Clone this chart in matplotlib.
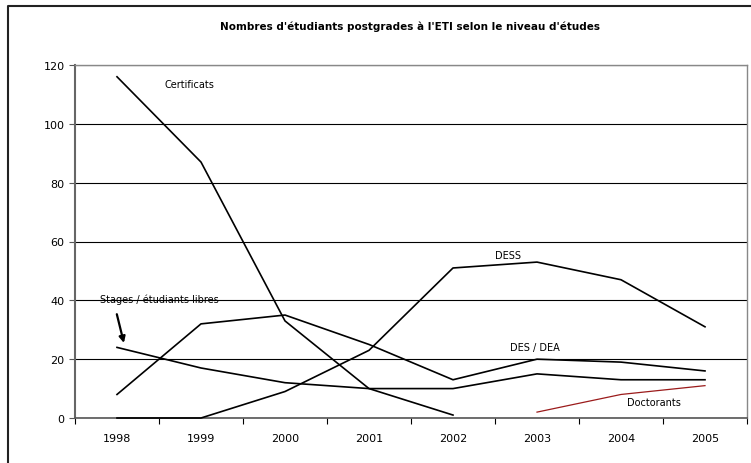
import matplotlib.pyplot as plt
import numpy as np

years = ['1998', '1999', '2000', '2001', '2002', '2003', '2004', '2005']
certificats = [116, 87, 33, 10, 1, None, None, None]
dess = [0, 0, 9, 23, 51, 53, 47, 31]
des_dea = [8, 32, 35, 25, 13, 20, 19, 16]
stages = [24, 17, 12, 10, 10, 15, 13, 13]
doctorants = [None, None, None, None, None, 2, 8, 11]

title = "Nombres d'étudiants postgrades à l'ETI selon le niveau d'études"

plt.rcParams['font.family'] = ['DejaVu Sans']


def arr(values):
    return np.array([np.nan if v is None else v for v in values], dtype=float)


fig = plt.figure(figsize=(7.51, 4.64), dpi=100)
ax = fig.add_axes([75 / 751, 1 - 419 / 464, (747 - 75) / 751, (419 - 66) / 464])

x = np.arange(len(years))
for series in [certificats, dess, des_dea, stages]:
    ax.plot(x, arr(series), color='black', linewidth=1.2, zorder=3, clip_on=False)
ax.plot(x, arr(doctorants), color='#9B1B1B', linewidth=0.9, zorder=3)

ax.set_xlim(-0.5, len(years) - 0.5)
ax.set_ylim(0, 120)
ax.set_yticks(range(0, 121, 20))
ax.set_xticks(x)
ax.set_xticklabels(years, fontsize=8)
ax.set_xticks(np.arange(-0.5, len(years)), minor=True)
ax.tick_params(axis='x', which='major', length=0, pad=11)
ax.tick_params(axis='x', which='minor', length=4, color='black', width=0.8, direction='out')
ax.tick_params(axis='y', labelsize=8, length=4, width=0.8, color='#555555')
ax.grid(axis='y', color='black', linewidth=0.8, zorder=1)

for side in ['top', 'right']:
    ax.spines[side].set_color('#888888')
    ax.spines[side].set_linewidth(1.0)
ax.spines['left'].set_color('#666666')
ax.spines['left'].set_linewidth(1.5)
ax.spines['bottom'].set_color('#555555')
ax.spines['bottom'].set_linewidth(1.2)

ax.text(0.57, 113.6, 'Certificats', fontsize=7, ha='left', va='center')
ax.text(4.65, 55.3, 'DESS', fontsize=7, ha='center', va='center')
ax.text(4.98, 24.2, 'DES / DEA', fontsize=7, ha='center', va='center')
ax.text(6.39, 5.4, 'Doctorants', fontsize=7, ha='center', va='center')
ax.text(0.5, 40.6, 'Stages / étudiants libres', fontsize=7, ha='center', va='center')
ax.annotate('', xy=(0.09, 24.6), xytext=(-0.01, 36.2),
            arrowprops=dict(arrowstyle='-|>', color='black', lw=1.6, mutation_scale=9))

fig.text(410 / 751, 1 - 27 / 464, title, fontsize=7.5, fontweight='bold', ha='center', va='center')

# outer chart frame: only its left and top edges fall inside the image
fig.add_artist(plt.Line2D([8 / 751, 8 / 751, 1.0], [0.0, 1 - 6.5 / 464, 1 - 6.5 / 464],
                          transform=fig.transFigure, color='#222222', linewidth=1.5))

fig.savefig('out.png', dpi=100)
